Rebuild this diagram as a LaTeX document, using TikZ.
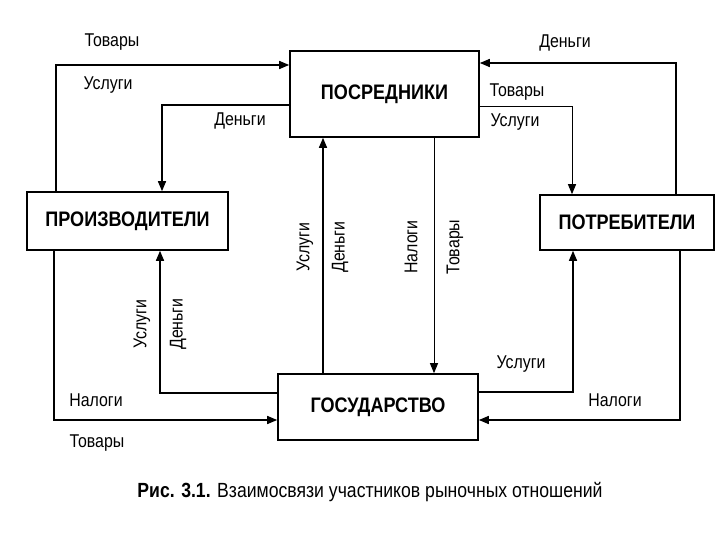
\documentclass[tikz,border=0pt]{standalone}
\usepackage{fontspec}
\setmainfont[FakeStretch=0.86]{Liberation Sans}
\usetikzlibrary{arrows.meta}
\tikzset{
  box/.style={draw, line width=1.6pt, inner sep=0pt, font=\fontsize{21}{23}\selectfont\bfseries},
  arr/.style={line width=1.4pt, -{Triangle[length=10pt,width=8pt]}},
  thinarr/.style={line width=1pt, -{Triangle[length=10pt,width=8pt]}},
  lbl/.style={inner sep=0pt, font=\fontsize{18.5}{20}\selectfont},
  vlbl/.style={inner sep=0pt, rotate=90, font=\fontsize{18.5}{20}\selectfont},
  caplbl/.style={inner sep=0pt, font=\fontsize{20.5}{22}\selectfont}
}
\begin{document}
\begin{tikzpicture}[x=1pt, y=-1pt]
\useasboundingbox (0,0) rectangle (720,540);
% boxes
\node[box, minimum width=189pt, minimum height=86pt] (pos) at (384.5,94) {ПОСРЕДНИКИ};
\node[box, minimum width=201pt, minimum height=58pt] (prod) at (127.5,221) {ПРОИЗВОДИТЕЛИ};
\node[box, minimum width=174pt, minimum height=55pt] (cons) at (627,222.5) {ПОТРЕБИТЕЛИ};
\node[box, minimum width=200pt, minimum height=66pt] (gov) at (378,407) {ГОСУДАРСТВО};
% bend coordinates
\coordinate (c1) at (56,65);
\coordinate (c2) at (162,105);
\coordinate (c3) at (676,63);
\coordinate (c4) at (572,107);
\coordinate (c5) at (323,0);
\coordinate (c6) at (434,0);
\coordinate (c7) at (160,393);
\coordinate (c8) at (54,420);
\coordinate (c9) at (573,392);
\coordinate (c10) at (680,420);
% connectors
\draw[arr] (prod.north -| c1) |- (pos.west |- c1);
\draw[arr] (pos.west |- c2) -| (prod.north -| c2);
\draw[arr] (cons.north -| c3) |- (pos.east |- c3);
\draw[thinarr] (pos.east |- c4) -| (cons.north -| c4);
\draw[arr] (gov.north -| c5) -- (pos.south -| c5);
\draw[thinarr] (pos.south -| c6) -- (gov.north -| c6);
\draw[arr] (gov.west |- c7) -| (prod.south -| c7);
\draw[arr] (prod.south -| c8) |- (gov.west |- c8);
\draw[arr] (gov.east |- c9) -| (cons.south -| c9);
\draw[arr] (cons.south -| c10) |- (gov.east |- c10);
% labels
\node[lbl] (l1) at (112,42) {Товары};
\node[lbl] (l2) at (108,85) {Услуги};
\node[lbl] (l3) at (240,121) {Деньги};
\node[lbl] (l4) at (565,43) {Деньги};
\node[lbl] (l5) at (517,92) {Товары};
\node[lbl] (l6) at (515,122) {Услуги};
\node[vlbl] (l7) at (305,247) {Услуги};
\node[vlbl] (l8) at (340,247) {Деньги};
\node[vlbl] (l9) at (411,247) {Налоги};
\node[vlbl] (l10) at (455,247) {Товары};
\node[vlbl] (l11) at (142,324) {Услуги};
\node[vlbl] (l12) at (178,324) {Деньги};
\node[lbl] (l13) at (96,400) {Налоги};
\node[lbl] (l14) at (97,443) {Товары};
\node[lbl] (l15) at (521,364) {Услуги};
\node[lbl] (l16) at (615,400) {Налоги};
% caption
\node[caplbl] (cap) at (370,492) {\textbf{Рис. 3.1.} Взаимосвязи участников рыночных отношений};
\end{tikzpicture}
\end{document}
